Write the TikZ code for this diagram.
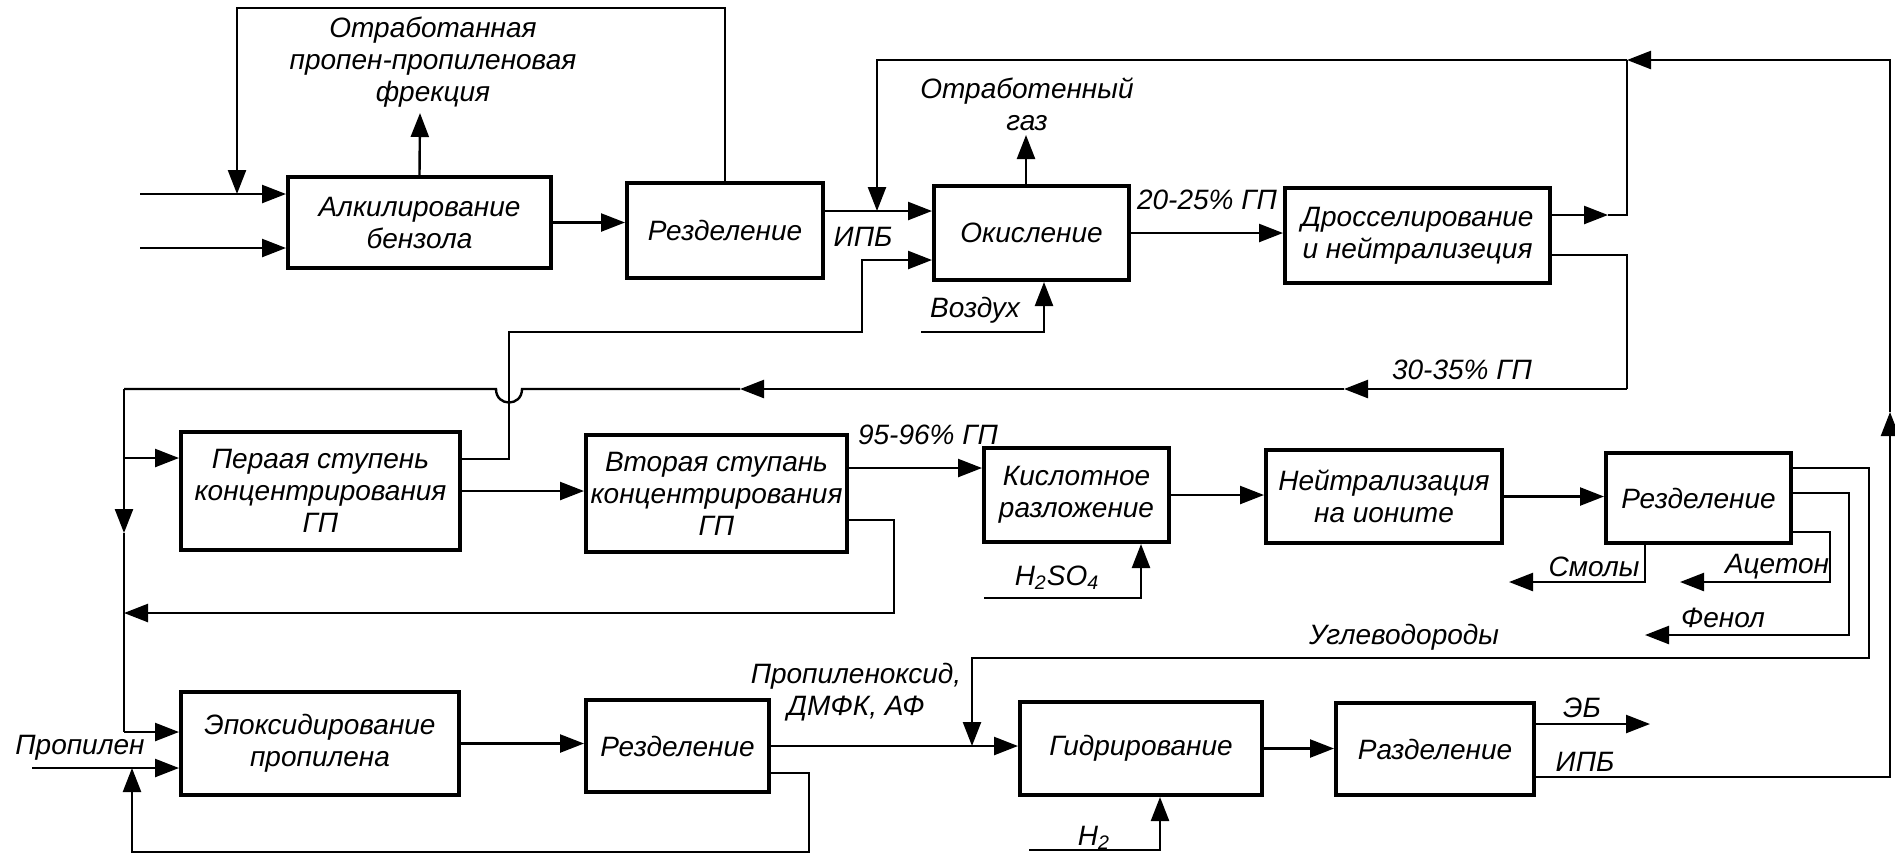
\documentclass[tikz,border=0pt]{standalone}
\usepackage{fontspec}
\setmainfont{Liberation Sans}
\usetikzlibrary{positioning, arrows.meta}

\begin{document}
\begin{tikzpicture}[
    x=0.5pt, y=-0.5pt,
    every node/.style={font=\fontsize{14}{16}\selectfont\itshape, align=center, inner sep=1pt},
    blk/.style={draw, line width=2pt},
    ln/.style={line width=1.2pt},
    arr/.style={ln, -{Triangle[length=12pt, width=9pt]}}
]
\useasboundingbox (0,0) rectangle (1895,859);

% blocks
\node[blk, minimum width=131.5pt, minimum height=45.5pt] (alk) at (419.5,222.5) {Алкилирование\\бензола};
\node[blk, minimum width=98pt, minimum height=47.5pt] (sep1) at (725,230.5) {Резделение};
\node[blk, minimum width=97.5pt, minimum height=47pt] (oxid) at (1031.5,233) {Окисление};
\node[blk, minimum width=132.5pt, minimum height=47.5pt] (dross) at (1417.5,235.5) {Дросселирование\\и нейтрализеция};
\node[blk, minimum width=139.5pt, minimum height=59pt] (conc1) at (320.5,491) {Пераая ступень\\концентрирования\\ГП};
\node[blk, minimum width=130.5pt, minimum height=58.5pt] (conc2) at (716.5,493.5) {Вторая ступань\\концентрирования\\ГП};
\node[blk, minimum width=92.5pt, minimum height=47pt] (acid) at (1076.5,495) {Кислотное\\разложение};
\node[blk, minimum width=118pt, minimum height=46.5pt] (neut) at (1384,496.5) {Нейтрализация\\на ионите};
\node[blk, minimum width=92.5pt, minimum height=45pt] (sep2) at (1698.5,498) {Резделение};
\node[blk, minimum width=139pt, minimum height=51.5pt] (epox) at (320,743.5) {Эпоксидирование\\пропилена};
\node[blk, minimum width=91.5pt, minimum height=46pt] (sep3) at (677.5,746) {Резделение};
\node[blk, minimum width=121pt, minimum height=46.5pt] (hydr) at (1141,748.5) {Гидрирование};
\node[blk, minimum width=99pt, minimum height=46pt] (sep4) at (1435,749) {Разделение};

% labels
\node (fract) at (433,62) {Отработанная\\пропен-пропиленовая\\фрекция};
\node (gas) at (1027,104) {Отработенный\\газ};
\node (ipb1) at (863,237) {ИПБ};
\node (gp20) at (1207,200) {20-25\% ГП};
\node (airtxt) at (975,310) {Воздух};
\node (gp30) at (1462,370) {30-35\% ГП};
\node (gp95) at (928,435) {95-96\% ГП};
\node (h2so4) at (1057,578) {H\textsubscript{2}SO\textsubscript{4}};
\node (resin) at (1594,567) {Смолы};
\node (acet) at (1777,567) {Ацетон};
\node (phen) at (1723,618) {Фенол};
\node (hcarb) at (1404,637) {Углеводороды};
\node (propyl) at (80,748) {Пропилен};
\node (poxide) at (856,692) {Пропиленоксид,\\ДМФК, АФ};
\node (ebtxt) at (1582,708) {ЭБ};
\node (ipb2) at (1585,762) {ИПБ};
\node (h2txt) at (1094,838) {H\textsubscript{2}};

% top row
\coordinate (in1) at (140,194);
\coordinate (in2) at (140,248);
\coordinate (rc) at (237,8);
\coordinate (off) at (420,113);
\draw[arr] (in1) -- (in1 -| alk.west);
\draw[arr] (in2) -- (in2 -| alk.west);
\draw[arr] (sep1.north) |- (rc) -- (rc |- in1);
\draw[arr] (alk.north) -- (off);
\draw[arr] (alk.east) -- (alk.east -| sep1.west);

\coordinate (ipb) at (877,211);
\coordinate (offgas) at (1026,135);
\coordinate (air) at (921,332);
\coordinate (airup) at (1044,332);
\draw[arr] (sep1.east |- ipb) -- (ipb -| oxid.west);
\draw[arr] (oxid.north -| offgas) -- (offgas);
\draw[arr] (air) -- (airup) -- (airup |- oxid.south);
\draw[arr] (oxid.east) -- (oxid.east -| dross.west);

% recycle to oxidation
\coordinate (dj) at (1627,215);
\coordinate (dja) at (1608,215);
\coordinate (tj) at (1627,60);
\coordinate (rv) at (1890,777);
\coordinate (rva) at (1890,412);
\draw[arr] (dross.east |- dj) -- (dja);
\draw[ln] (dja) -- (dj) -- (tj);
\draw[arr] (sep4.east |- rv) -- (rv) -- (rva);
\draw[arr] (rva) |- (tj);
\draw[arr] (tj) -| (ipb);

% 30-35% line
\coordinate (dlo) at (1627,255);
\coordinate (dl) at (1627,389);
\coordinate (a1) at (1344,389);
\coordinate (a2) at (740,389);
\coordinate (lv) at (124,389);
\coordinate (lva) at (124,533);
\coordinate (p1in) at (124,458);
\coordinate (ein) at (124,732);
\draw[ln] (dross.east |- dlo) -- (dlo) -- (dl);
\draw[arr] (dl) -- (a1);
\draw[arr] (a1) -- (a2);
\draw[ln] (a2) -- (522,389) .. controls (522,407) and (496,407) .. (496,389) -- (lv);
\draw[arr] (lv) -- (lva);
\draw[ln] (lva) -- (ein);
\draw[arr] (ein) -- (ein -| epox.west);
\draw[arr] (p1in) -- (p1in -| conc1.west);

% concentration
\coordinate (p1o) at (509,459);
\coordinate (oxk) at (862,332);
\coordinate (oxin) at (862,260);
\draw[arr] (conc1.east |- p1o) -- (p1o) |- (oxk) -- (oxin) -- (oxin -| oxid.west);
\draw[arr] (conc1.east) -- (conc1.east -| conc2.west);
\coordinate (p2k) at (847,468);
\draw[arr] (conc2.east |- p2k) -- (p2k -| acid.west);
\coordinate (p2r) at (894,520);
\coordinate (p2d) at (894,613);
\coordinate (p2e) at (124,613);
\draw[arr] (conc2.east |- p2r) -- (p2r) -- (p2d) -- (p2e);
\coordinate (h2s) at (984,598);
\coordinate (h2sc) at (1141,598);
\draw[arr] (h2s) -- (h2sc) -- (h2sc |- acid.south);
\draw[arr] (acid.east) -- (acid.east -| neut.west);
\draw[arr] (neut.east) -- (neut.east -| sep2.west);

% products of separation
\coordinate (sm) at (1645,582);
\coordinate (smo) at (1509,582);
\draw[arr] (sm |- sep2.south) -- (sm) -- (smo);
\coordinate (ac) at (1830,532);
\coordinate (acd) at (1830,582);
\coordinate (aco) at (1680,582);
\draw[arr] (sep2.east |- ac) -- (ac) -- (acd) -- (aco);
\coordinate (ph) at (1849,493);
\coordinate (phd) at (1849,635);
\coordinate (pho) at (1645,635);
\draw[arr] (sep2.east |- ph) -- (ph) -- (phd) -- (pho);
\coordinate (hc) at (1869,468);
\coordinate (hcd) at (1869,658);
\coordinate (hcl) at (972,658);
\coordinate (hcm) at (972,746);
\draw[arr] (sep2.east |- hc) -- (hc) -- (hcd) -- (hcl) -- (hcm);

% bottom row
\coordinate (prop) at (32,768);
\coordinate (rr) at (809,773);
\coordinate (rrd) at (809,852);
\coordinate (rrl) at (132,852);
\draw[arr] (prop) -- (prop -| epox.west);
\draw[arr] (sep3.east |- rr) -- (rr) -- (rrd) -- (rrl) -- (rrl |- prop);
\draw[arr] (epox.east) -- (epox.east -| sep3.west);
\draw[arr] (sep3.east) -- (sep3.east -| hydr.west);
\draw[arr] (hydr.east) -- (hydr.east -| sep4.west);
\coordinate (eb) at (1650,724);
\draw[arr] (sep4.east |- eb) -- (eb);
\coordinate (h2) at (1029,850);
\coordinate (h2c) at (1160,850);
\draw[arr] (h2) -- (h2c) -- (h2c |- hydr.south);
\end{tikzpicture}
\end{document}
